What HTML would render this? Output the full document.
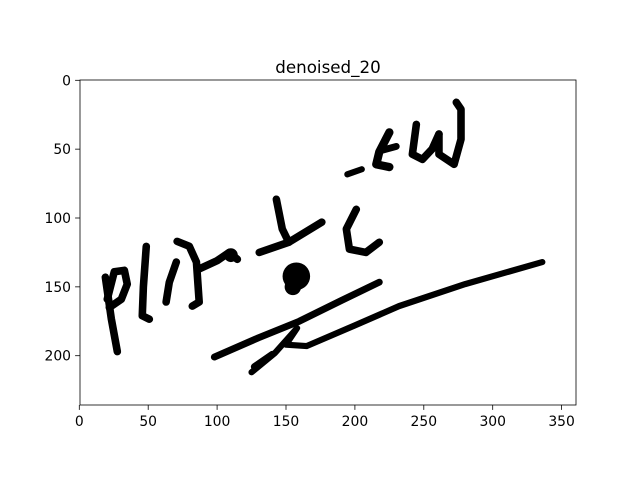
<!DOCTYPE html>
<html><head><meta charset="utf-8"><style>
body{margin:0;background:#fff;font-family:"Liberation Sans","DejaVu Sans",sans-serif}
svg text{font-family:"DejaVu Sans","Liberation Sans",sans-serif;font-size:13.9px;fill:#000}
</style></head><body>
<svg id="chart" width="640" height="480" xmlns="http://www.w3.org/2000/svg">
<rect width="640" height="480" fill="#fff"/>
<text x="328" y="73" text-anchor="middle" style="font-size:16.7px">denoised_20</text>
<g id="marks"></g>
<rect x="80" y="80" width="496" height="325" fill="none" stroke="#000" stroke-width="0.8"/>
<g id="axes"></g>
</svg>
<script>
const xTicks=[0,50,100,150,200,250,300,350];
const yTicks=[0,50,100,150,200];
const strokeW=[5.5,5.5,5.5,5.5,5.5,5.5,5.5,5.5,5.5,4.5,6,5,5.5,5.5,5,4.5,5];
const strokes=[
[[18.9,143],[23.2,173],[27.6,197]],
[[20.3,159],[25.4,139],[32.7,138],[34.8,148],[30.5,159],[21.8,165]],
[[48.6,120.6],[46.5,150],[45.7,171],[50.8,173.5]],
[[71,117],[79.8,120.5],[85,132],[87,161],[82,164]],
[[70.4,132],[65.3,146.7],[63,161]],
[[87,137],[100,131],[108.8,125],[114.7,130]],
[[143,86.4],[147.3,108],[152,117.6]],
[[130.6,125],[152,117.6],[176,103]],
[[201,93.7],[193.8,108],[196,122.6],[208,125],[217.7,117.6]],
[[194.5,68.3],[205,64.6]],
[[225,37.8],[217.7,52],[215.5,61],[225,63]],
[[219,51],[230,48]],
[[244.6,32],[241.7,53.7],[249,57.4],[256,50],[261,39]],
[[261,39],[261,53.7],[272,61],[277,42.8],[277,21],[273.6,16]],
[[98,201],[130,187],[159.6,175],[190,160],[217.7,146.6]],
[[125,212],[142,198],[158,180],[150,192],[165,193],[200,178],[232,164],[280,148],[336,132]],
[[127,208],[140,199]]
];
const blobs=[[157.5,142.3,10],[155,150,6],[110,127,5]];
const X=v=>79.3+v*1.378, Y=v=>80.3+v*1.377;
const NS="http://www.w3.org/2000/svg";
const marks=document.getElementById('marks');
strokes.forEach((s,i)=>{
 const p=document.createElementNS(NS,'polyline');
 
 
 p.setAttribute('points',s.map(q=>X(q[0])+','+Y(q[1])).join(' '));
 p.setAttribute('fill','none');p.setAttribute('stroke','#000');
 p.setAttribute('stroke-width',strokeW[i]*1.378);
 p.setAttribute('stroke-linecap','round');p.setAttribute('stroke-linejoin','round');
 marks.appendChild(p);
});
blobs.forEach(b=>{
 const c=document.createElementNS(NS,'circle');
 
 
 c.setAttribute('cx',X(b[0]));c.setAttribute('cy',Y(b[1]));c.setAttribute('r',b[2]*1.378);
 marks.appendChild(c);
});
const ax=document.getElementById('axes');
xTicks.forEach(t=>{
 const l=document.createElementNS(NS,'line');
 
 
 l.setAttribute('x1',X(t));l.setAttribute('x2',X(t));l.setAttribute('y1',405);l.setAttribute('y2',409.9);l.setAttribute('stroke','#000');l.setAttribute('stroke-width','0.8');
 ax.appendChild(l);
 const tx=document.createElementNS(NS,'text');
 
 
 tx.setAttribute('x',X(t));tx.setAttribute('y',426);tx.setAttribute('text-anchor','middle');tx.textContent=t;
 ax.appendChild(tx);
});
yTicks.forEach(t=>{
 const l=document.createElementNS(NS,'line');
 
 
 l.setAttribute('x1',75.1);l.setAttribute('x2',80);l.setAttribute('y1',Y(t));l.setAttribute('y2',Y(t));l.setAttribute('stroke','#000');l.setAttribute('stroke-width','0.8');
 ax.appendChild(l);
 const tx=document.createElementNS(NS,'text');
 
 
 tx.setAttribute('x',71);tx.setAttribute('y',Y(t)+5);tx.setAttribute('text-anchor','end');tx.textContent=t;
 ax.appendChild(tx);
});
</script>
</body></html>
